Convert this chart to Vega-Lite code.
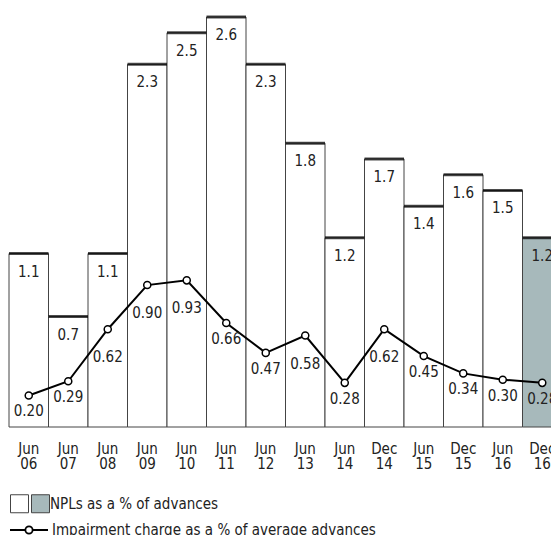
{
  "$schema": "https://vega.github.io/schema/vega-lite/v6.json",
  "width": 542,
  "height": 427,
  "autosize": {"type": "none"},
  "padding": {"left": 9, "top": 0, "right": 0, "bottom": 108},
  "config": {
    "view": {"stroke": null},
    "font": "'DejaVu Sans Condensed', Roboto, sans-serif",
    "text": {"font": "'DejaVu Sans Condensed', Roboto, sans-serif"},
    "legend": {"labelFont": "'DejaVu Sans Condensed', Roboto, sans-serif", "labelFontSize": 15, "labelColor": "#222", "padding": 0, "labelLimit": 500}
  },
  "data": {
    "values": [
      {"period": "Jun 06", "npl": 1.1, "imp": 0.20, "status": "historic"},
      {"period": "Jun 07", "npl": 0.7, "imp": 0.29, "status": "historic"},
      {"period": "Jun 08", "npl": 1.1, "imp": 0.62, "status": "historic"},
      {"period": "Jun 09", "npl": 2.3, "imp": 0.90, "status": "historic"},
      {"period": "Jun 10", "npl": 2.5, "imp": 0.93, "status": "historic"},
      {"period": "Jun 11", "npl": 2.6, "imp": 0.66, "status": "historic"},
      {"period": "Jun 12", "npl": 2.3, "imp": 0.47, "status": "historic"},
      {"period": "Jun 13", "npl": 1.8, "imp": 0.58, "status": "historic"},
      {"period": "Jun 14", "npl": 1.2, "imp": 0.28, "status": "historic"},
      {"period": "Dec 14", "npl": 1.7, "imp": 0.62, "status": "historic"},
      {"period": "Jun 15", "npl": 1.4, "imp": 0.45, "status": "historic"},
      {"period": "Dec 15", "npl": 1.6, "imp": 0.34, "status": "historic"},
      {"period": "Jun 16", "npl": 1.5, "imp": 0.30, "status": "historic"},
      {"period": "Dec 16", "npl": 1.2, "imp": 0.28, "status": "latest"}
    ]
  },
  "encoding": {
    "x": {
      "field": "period", "type": "nominal", "sort": null,
      "scale": {"range": [0, 553], "paddingInner": 0, "paddingOuter": 0},
      "axis": {
        "title": null, "labelAngle": 0, "domain": false, "ticks": false, "grid": false,
        "labelExpr": "split(datum.label, ' ')",
        "labelFont": "'DejaVu Sans Condensed', Roboto, sans-serif", "labelFontSize": 15, "labelColor": "#222",
        "labelLineHeight": 15, "labelPadding": 14, "labelBaseline": "top"
      }
    }
  },
  "layer": [
    {
      "mark": {"type": "bar", "stroke": "#444", "strokeWidth": 1},
      "encoding": {
        "y": {"field": "npl", "type": "quantitative", "scale": {"domain": [0, 2.708], "nice": false}, "axis": null},
        "fill": {
          "field": "status", "type": "nominal",
          "scale": {"domain": ["historic", "latest"], "range": ["white", "#a7b9bb"]},
          "legend": {
            "orient": "none", "legendX": 1, "legendY": 494, "direction": "horizontal",
            "title": null, "symbolType": "square", "symbolSize": 324, "symbolStrokeWidth": 1,
            "labelOffset": 0, "columnPadding": -8,
            "labelExpr": "datum.value == 'latest' ? '\u00a0NPLs as a % of advances' : ''",
            "encode": {"symbols": {"update": {"stroke": {"value": "#444"}, "strokeWidth": {"value": 1}}}}
          }
        }
      }
    },
    {
      "mark": {"type": "tick", "color": "black", "thickness": 3, "size": 39.5},
      "encoding": {
        "y": {"field": "npl", "type": "quantitative"}
      }
    },
    {
      "mark": {"type": "text", "baseline": "alphabetic", "dy": 23, "fontSize": 15, "fill": "#222"},
      "encoding": {
        "y": {"field": "npl", "type": "quantitative"},
        "text": {"field": "npl", "type": "quantitative", "format": ".1f"}
      }
    },
    {
      "mark": {"type": "line", "strokeWidth": 2, "point": {"filled": false, "fill": "white", "size": 50, "strokeWidth": 1.5}},
      "encoding": {
        "y": {"field": "imp", "type": "quantitative"},
        "color": {
          "datum": "Impairment charge as a % of average advances",
          "scale": {"range": ["black"]},
          "legend": {
            "orient": "none", "legendX": 0, "legendY": 510, "title": null,
            "symbolType": "M-1,0H-0.19M0.19,0H1M0.19,0A0.19,0.19 0 1 1 -0.19,0A0.19,0.19 0 1 1 0.19,0",
            "symbolSize": 1444, "labelOffset": 3,
            "encode": {"symbols": {"update": {"fill": {"value": "white"}, "stroke": {"value": "black"}, "strokeWidth": {"value": 1.8}}}}
          }
        }
      }
    },
    {
      "transform": [
        {"window": [{"op": "lag", "field": "imp", "as": "prev"}, {"op": "lead", "field": "imp", "as": "next"}]},
        {"filter": "!(datum.prev != null && (datum.imp - datum.prev > 0.1 || (datum.imp > datum.prev && datum.next != null && datum.imp > datum.next)))"}
      ],
      "mark": {"type": "text", "baseline": "alphabetic", "dy": 21, "fontSize": 15, "fill": "#222"},
      "encoding": {
        "y": {"field": "imp", "type": "quantitative"},
        "text": {"field": "imp", "type": "quantitative", "format": ".2f"}
      }
    },
    {
      "transform": [
        {"window": [{"op": "lag", "field": "imp", "as": "prev"}, {"op": "lead", "field": "imp", "as": "next"}]},
        {"filter": "datum.prev != null && (datum.imp - datum.prev > 0.1 || (datum.imp > datum.prev && datum.next != null && datum.imp > datum.next))"}
      ],
      "mark": {"type": "text", "baseline": "alphabetic", "dy": 33, "fontSize": 15, "fill": "#222"},
      "encoding": {
        "y": {"field": "imp", "type": "quantitative"},
        "text": {"field": "imp", "type": "quantitative", "format": ".2f"}
      }
    }
  ]
}
